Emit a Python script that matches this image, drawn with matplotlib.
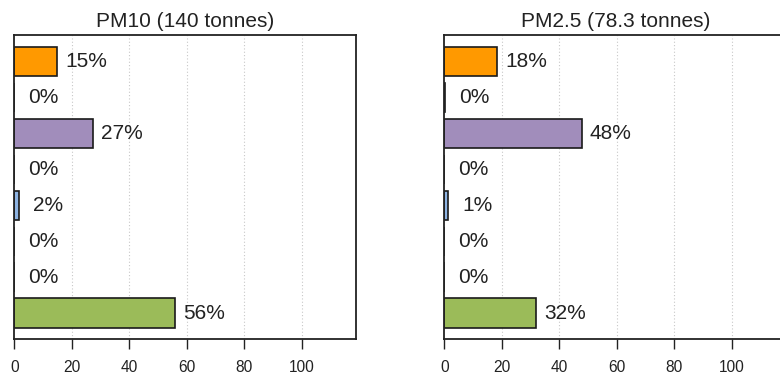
import matplotlib.pyplot as plt

plt.rcParams['font.family'] = ['Liberation Sans', 'DejaVu Sans']

# share of emissions by source group (%), top row first
sources = ['s1', 's2', 's3', 's4', 's5', 's6', 's7', 's8']
pm10_share = [15.0, 0.0, 27.4, 0.0, 1.6, 0.0, 0.0, 56.0]
pm25_share = [18.4, 0.3, 47.9, 0.0, 1.4, 0.0, 0.0, 32.0]
bar_colors = ['#FF9900', '#222222', '#A18DBB', '#B0B0B0',
              '#8DB3E2', '#C0504D', '#4BACC6', '#9BBB59']
titles = ['PM10 (140 tonnes)', 'PM2.5 (78.3 tonnes)']
xticks = [0, 20, 40, 60, 80, 100]

fig = plt.figure(figsize=(7.8, 3.78), dpi=100)
ax1 = fig.add_axes([14.3/780, 1-339/378, 342/780, 304/378])
ax2 = fig.add_axes([444.3/780, 1-339/378, 342/780, 304/378])

for ax, vals, title in zip([ax1, ax2], [pm10_share, pm25_share], titles):
    pos = range(len(vals))
    for x in xticks[1:]:
        ax.axvline(x, color='#C8C8C8', lw=0.8, ls=(0, (1, 2)), zorder=0)
    ax.barh(pos, vals, height=0.82, color=bar_colors,
            edgecolor='#1a1a1a', linewidth=1.2, zorder=2)
    for p, v in zip(pos, vals):
        ax.text(v + 10, p, '%d%%' % round(v), ha='center', va='center',
                fontsize=15, color='#222222')
    ax.set_xlim(0, 119)
    ax.set_ylim(7.72, -0.74)
    ax.set_yticks([])
    ax.set_xticks(xticks)
    ax.tick_params(axis='x', length=7, width=1, pad=8, labelsize=11.2,
                   colors='#222222')
    for s in ax.spines.values():
        s.set_linewidth(1.3)
        s.set_color('#222222')
    ax.set_title(title, fontsize=15, color='#222222', pad=6)

fig.savefig('out.png', dpi=100)
